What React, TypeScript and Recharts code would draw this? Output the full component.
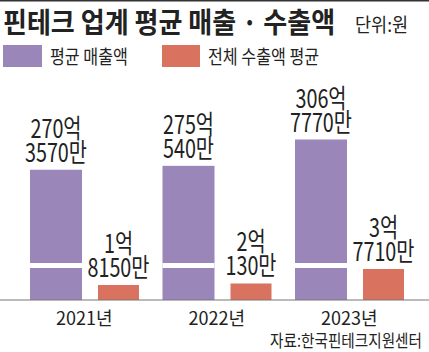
import React from 'react';
import { BarChart, Bar, XAxis, YAxis, LabelList, Legend } from 'recharts';

// values in 만원
const years = ['2021년', '2022년', '2023년'];
const avgSales = [2703570, 2750540, 3067770];
const avgExports = [18150, 20130, 37710];
const seriesNames = ['평균 매출액', '전체 수출액 평균'];
const title = '핀테크 업계 평균 매출 · 수출액';
const unitText = '단위:원';
const sourceText = '자료:한국핀테크지원센터';

const PURPLE = '#9b86ba';
const RED = '#d9725f';
const FONT = '"Noto Sans CJK KR", "Noto Sans", sans-serif';
const INK = '#222';

const data = years.map((y, i) => ({ year: y, sales: avgSales[i], exports: avgExports[i] }));

const fmt = (v: number) => [`${Math.floor(v / 10000)}억`, `${v % 10000}만`];

const TwoLine = (props: any) => {
  const { x, y, width, value } = props;
  const cx = Number(x) + Number(width) / 2;
  const [l1, l2] = fmt(Number(value));
  return (
    <text
      transform={`translate(${cx},${Number(y) - 8}) scale(0.76,1)`}
      textAnchor="middle"
      fontFamily={FONT}
      fontSize={26}
      fill={INK}
    >
      <tspan x={0} y={-24}>{l1}</tspan>
      <tspan x={0} y={0}>{l2}</tspan>
    </text>
  );
};

const StripedBar = (props: any) => {
  const { x, y, width, height, fill } = props;
  const bottom = y + height;
  return (
    <g>
      <rect x={x} y={y} width={width} height={height} fill={fill} />
      <rect x={x} y={bottom - 37} width={width} height={5} fill="#fff" />
    </g>
  );
};

const Tick = (p: any) => (
  <text x={p.x} y={p.y + 25} textAnchor="middle" fontFamily={FONT} fontSize={18} fill={INK}>
    {p.payload.value}
  </text>
);

const LegendContent = () => (
  <svg width={429} height={80} style={{ display: 'block' }}>
    <rect x={0} y={0} width={429} height={1.5} fill="#333" />
    <text transform="translate(3,33) scale(0.93,1)" fontFamily={FONT} fontWeight={700} fontSize={28} fill={INK}>{title}</text>
    <text transform="translate(355,32) scale(0.92,1)" fontFamily={FONT} fontSize={19} fill={INK}>{unitText}</text>
    <rect x={3} y={45} width={39} height={22} fill={PURPLE} />
    <text transform="translate(50,64) scale(0.85,1)" fontFamily={FONT} fontSize={19} fill={INK}>{seriesNames[0]}</text>
    <rect x={162} y={45} width={38} height={22} fill={RED} />
    <text transform="translate(208,64) scale(0.85,1)" fontFamily={FONT} fontSize={19} fill={INK}>{seriesNames[1]}</text>
  </svg>
);

export default function App() {
  return (
    <div style={{ position: 'absolute', left: 0, top: 0, width: 429, height: 352, background: '#fff', overflow: 'hidden' }}>
      <BarChart width={429} height={352} data={data} margin={{ top: 0, right: 0, bottom: 22, left: 0 }} barGap={16}>
        <XAxis
          dataKey="year"
          height={30}
          padding={{ left: 18, right: 13.5 }}
          tickLine={false}
          tickSize={0}
          tickMargin={0}
          axisLine={{ stroke: '#777', strokeWidth: 1 }}
          tick={<Tick />}
          interval={0}
        />
        <YAxis yAxisId="s" hide type="number" domain={[1134000, 3785000]} allowDataOverflow />
        <YAxis yAxisId="e" hide type="number" domain={[0, 266700]} allowDataOverflow />
        <Legend verticalAlign="top" height={80} content={<LegendContent />} wrapperStyle={{ left: 0, top: 0, width: 429, height: 80 }} />
        <Bar dataKey="sales" name={seriesNames[0]} yAxisId="s" barSize={52} fill={PURPLE} shape={<StripedBar />} isAnimationActive={false}>
          <LabelList dataKey="sales" content={<TwoLine />} />
        </Bar>
        <Bar dataKey="exports" name={seriesNames[1]} yAxisId="e" barSize={41} fill={RED} isAnimationActive={false}>
          <LabelList dataKey="exports" content={<TwoLine />} />
        </Bar>
      </BarChart>
      <svg width={429} height={352} style={{ position: 'absolute', left: 0, top: 0, pointerEvents: 'none' }}>
        <text transform="translate(422,347) scale(0.86,1)" textAnchor="end" fontFamily={FONT} fontSize={17} fill={INK}>{sourceText}</text>
      </svg>
    </div>
  );
}
